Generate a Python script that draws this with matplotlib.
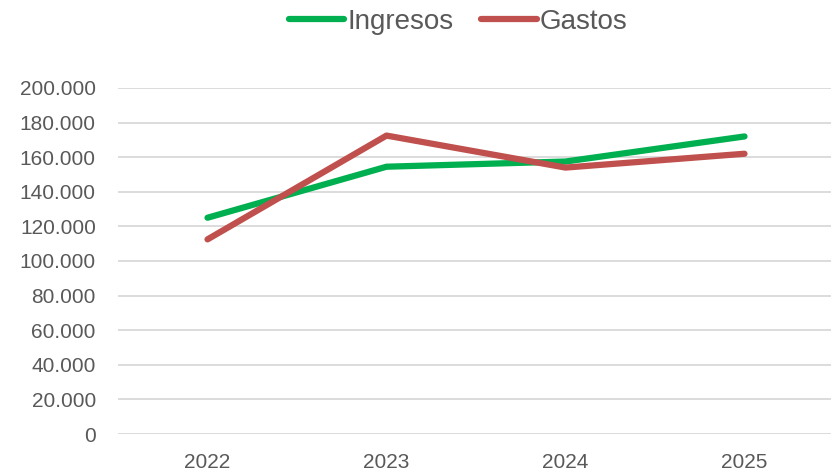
import matplotlib.pyplot as plt
from matplotlib.ticker import FuncFormatter

# Data
years = ['2022', '2023', '2024', '2025']
ingresos = [125000, 154500, 157500, 172000]
gastos = [112500, 172500, 154000, 162000]
y_ticks = list(range(0, 200001, 20000))

plt.rcParams['font.family'] = ['Liberation Sans Narrow', 'Liberation Sans', 'DejaVu Sans']
text_color = '#595959'

fig = plt.figure(figsize=(8.31, 4.75), dpi=100)
ax = fig.add_axes([118/831, 41/475, 716/831, 346/475])

x = range(len(years))
ax.plot(x, ingresos, color='#00b050', lw=4.5, solid_capstyle='round',
        solid_joinstyle='round', label='Ingresos', zorder=3)
ax.plot(x, gastos, color='#c0504d', lw=4.5, solid_capstyle='round',
        solid_joinstyle='round', label='Gastos', zorder=3)

ax.set_xlim(-0.5, len(years) - 0.5)
ax.set_ylim(0, 200000)
ax.set_xticks(list(x))
ax.set_xticklabels(years)
ax.set_yticks(y_ticks)
ax.yaxis.set_major_formatter(FuncFormatter(lambda v, p: f'{int(v):,}'.replace(',', '.')))

ax.grid(axis='y', color='#d9d9d9', lw=1.3)
ax.set_axisbelow(True)
for s in ax.spines.values():
    s.set_visible(False)
ax.tick_params(length=0, labelsize=15, labelcolor=text_color)
ax.tick_params(axis='y', pad=16)
ax.tick_params(axis='x', pad=14)

fig.legend(loc='center', bbox_to_anchor=(458/831, 1 - 22/475), ncol=2,
           frameon=False, fontsize=20, labelcolor=text_color,
           handlelength=2.0, handletextpad=0.1, columnspacing=1.0)

fig.savefig('out.png', dpi=100)
